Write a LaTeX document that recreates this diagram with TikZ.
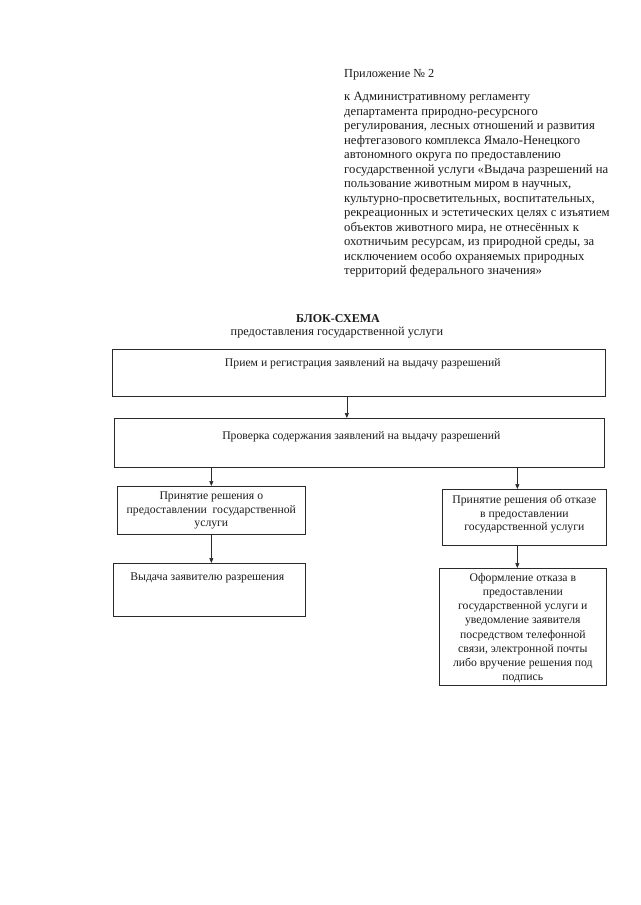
\documentclass[tikz,border=0pt]{standalone}
\usepackage{fontspec}
\setmainfont{Liberation Serif}
\usetikzlibrary{arrows.meta,positioning,calc}
\definecolor{ink}{HTML}{1A1A1A}
\definecolor{frame}{HTML}{2A2A2A}

\begin{document}
\begin{tikzpicture}[x=1pt,y=-1pt,font=\fontsize{12.3}{14.5}\selectfont,
  box/.style={draw=frame,line width=0.7pt,inner sep=0pt,anchor=north west},
  boxtext/.style={anchor=north,align=center,text=ink,inner sep=0pt,
                  font=\fontsize{11.7}{13.5}\selectfont},
  flow/.style={-{Triangle[length=5pt,width=4pt]},draw=frame,line width=0.7pt}]
  \useasboundingbox (0,0) rectangle (640,905);
  % header
  \node[anchor=base west,inner sep=0pt,text=ink] (app) at (344,77) {Приложение № 2};
  \node[anchor=north west,align=left,inner sep=0pt,text=ink,
        font=\fontsize{12.7}{14.5}\selectfont] (reg) at (344,92)
       {к Административному регламенту\\
        департамента природно-ресурсного\\
        регулирования, лесных отношений и развития\\
        нефтегазового комплекса Ямало-Ненецкого\\
        автономного округа по предоставлению\\
        государственной услуги «Выдача разрешений на\\
        пользование животным миром в научных,\\
        культурно-просветительных, воспитательных,\\
        рекреационных и эстетических целях с изъятием\\
        объектов животного мира, не отнесённых к\\
        охотничьим ресурсам, из природной среды, за\\
        исключением особо охраняемых природных\\
        территорий федерального значения»};
  \node[anchor=base,inner sep=0pt,text=ink,font=\fontsize{12}{14}\selectfont\bfseries]
       (ttl) at (338,322) {БЛОК-СХЕМА};
  \node[anchor=base,inner sep=0pt,text=ink] (sub) at (337,335)
       {предоставления государственной услуги};
  % boxes
  \node[box,minimum width=493pt,minimum height=47pt] (b1) at (112,349) {};
  \node[box,minimum width=490pt,minimum height=49pt] (b2) at (114,418) {};
  \node[box,minimum width=188pt,minimum height=48pt] (b3) at (117,486) {};
  \node[box,minimum width=164pt,minimum height=56pt] (b4) at (442,489) {};
  \node[box,minimum width=192pt,minimum height=53pt] (b5) at (113,563) {};
  \node[box,minimum width=167pt,minimum height=117pt] (b6) at (439,568) {};
  % texts
  \node[boxtext] (t1) at ($(b1.north)+(4,9)$)
       {Прием и регистрация заявлений на выдачу разрешений};
  \node[boxtext] (t2) at ($(b2.north)+(2,13)$)
       {Проверка содержания заявлений на выдачу разрешений};
  \node[boxtext] (t3) at ($(b3.north)+(0,6)$)
       {Принятие решения о\\предоставлении \ государственной\\услуги};
  \node[boxtext] (t4) at ($(b4.north)+(0,6)$)
       {Принятие решения об отказе\\в предоставлении\\государственной услуги};
  \node[boxtext] (t5) at ($(b5.north)+(-2,10)$)
       {Выдача заявителю разрешения};
  \node[boxtext,font=\fontsize{11.7}{14.2}\selectfont] (t6) at ($(b6.north)+(0,5)$)
       {Оформление отказа в\\предоставлении\\государственной услуги и\\уведомление заявителя\\
        посредством телефонной\\связи, электронной почты\\либо вручение решения под\\подпись};
  % arrows
  \draw[flow] ([xshift=-12pt]b1.south) -- ([xshift=-12pt]b1.south |- b2.north);
  \draw[flow] (b2.south -| b3.north) -- (b3.north);
  \draw[flow] ([xshift=-7pt]b2.south -| b4.north) -- ([xshift=-7pt]b4.north);
  \draw[flow] (b3.south) -- (b3.south |- b5.north);
  \draw[flow] ([xshift=-7pt]b4.south) -- ([xshift=-7pt]b4.south |- b6.north);
\end{tikzpicture}
\end{document}
